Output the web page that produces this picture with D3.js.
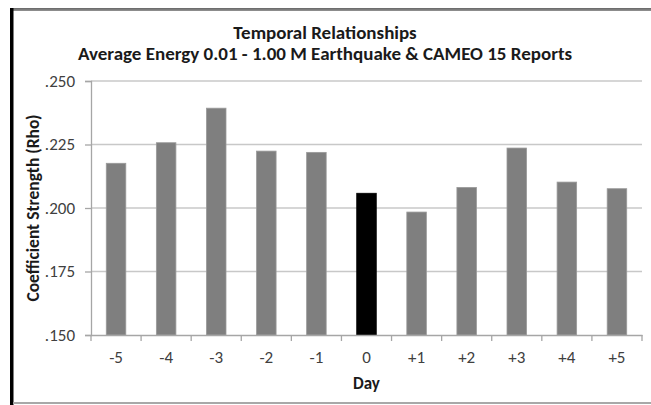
<!DOCTYPE html>
<html><head><meta charset="utf-8">
<script src="https://cdn.jsdelivr.net/npm/d3@7"></script>
<style>body{margin:0;background:#fff}svg{display:block}</style>
</head><body><svg id="c" width="651" height="405"></svg>
<script>
const days = ["-5","-4","-3","-2","-1","0","+1","+2","+3","+4","+5"];
const rho = [0.2176,0.2257,0.2393,0.2224,0.2219,0.2058,0.1984,0.2081,0.2236,0.2102,0.2076];
const yTicks = [0.150,0.175,0.200,0.225,0.250];
const titleLines = ["Temporal Relationships","Average Energy 0.01 - 1.00 M Earthquake & CAMEO 15 Reports"];
const xTitle = "Day", yTitle = "Coefficient Strength (Rho)";

const svg = d3.select("#c");
const font = "Carlito, Calibri, Lato, 'Open Sans', sans-serif";
const L = 91, R = 642, T = 81, B = 335;

// frame
svg.append("rect").attr("x",13).attr("y",8).attr("width",651).attr("height",3).attr("fill","#8c8c8c");
svg.append("rect").attr("x",13).attr("y",8).attr("width",651).attr("height",1.5).attr("fill","#6e6e6e");
svg.append("rect").attr("x",10).attr("y",8).attr("width",3.5).attr("height",400).attr("fill","#000");
svg.append("rect").attr("x",13).attr("y",402).attr("width",651).attr("height",2).attr("fill","#a8a8a8");

const x = d3.scaleBand().domain(days).range([L,R]).paddingInner(0.61).paddingOuter(0.305);
const y = d3.scaleLinear().domain([0.15,0.25]).range([B,T]);

// gridlines
svg.append("g").selectAll("line").data(yTicks.slice(1)).join("line")
  .attr("x1",L).attr("x2",R).attr("y1",d=>y(d)).attr("y2",d=>y(d))
  .attr("stroke","#c8c8c8").attr("stroke-width",1.3);

// bars
svg.append("g").selectAll("rect").data(days).join("rect")
  .attr("x",d=>x(d)).attr("width",x.bandwidth())
  .attr("y",(d,i)=>y(rho[i])).attr("height",(d,i)=>B-y(rho[i]))
  .attr("fill",(d)=>d==="0"?"#000":"#7f7f7f")
  .attr("stroke",(d)=>d==="0"?"#000":"#9a9a9a").attr("stroke-width",0.8);

// y axis
const ya = svg.append("g").attr("transform",`translate(${L},0)`)
  .call(d3.axisLeft(y).tickValues(yTicks).tickSize(6).tickPadding(10).tickFormat(d=>d3.format(".3f")(d).replace(/^0/,"")));
ya.select(".domain").attr("stroke","#a6a6a6").attr("stroke-width",1.3);
ya.selectAll(".tick line").attr("stroke","#a6a6a6").attr("stroke-width",1.3);
ya.selectAll("text").attr("font-family",font).attr("font-size",17).attr("fill","#404040");

// x axis
const bounds = d3.range(days.length+1).map(i=>L+i*(R-L)/days.length);
svg.append("g").selectAll("line").data(bounds).join("line")
  .attr("x1",d=>d).attr("x2",d=>d).attr("y1",B).attr("y2",B+6)
  .attr("stroke","#a6a6a6").attr("stroke-width",1.3);
const xa = svg.append("g").attr("transform",`translate(0,${B})`)
  .call(d3.axisBottom(x).tickSize(0).tickPadding(16));
xa.select(".domain").attr("stroke","#a6a6a6").attr("stroke-width",1.3);
xa.selectAll("text").attr("font-family",font).attr("font-size",17).attr("fill","#404040");

// titles
svg.append("g").selectAll("text").data(titleLines).join("text")
  .attr("x",325).attr("y",(d,i)=>39+i*21).attr("text-anchor","middle")
  .attr("font-family",font).attr("font-weight","bold").attr("font-size",19).attr("fill","#1a1a1a")
  .text(d=>d);
svg.append("text").attr("x",(L+R)/2).attr("y",389).attr("text-anchor","middle")
  .attr("font-family",font).attr("font-weight","bold").attr("font-size",17).attr("fill","#1a1a1a").text(xTitle);
svg.append("text").attr("transform",`translate(39,${(T+B)/2}) rotate(-90)`).attr("text-anchor","middle")
  .attr("font-family",font).attr("font-weight","bold").attr("font-size",17.5).attr("fill","#1a1a1a").text(yTitle);
</script></body></html>
